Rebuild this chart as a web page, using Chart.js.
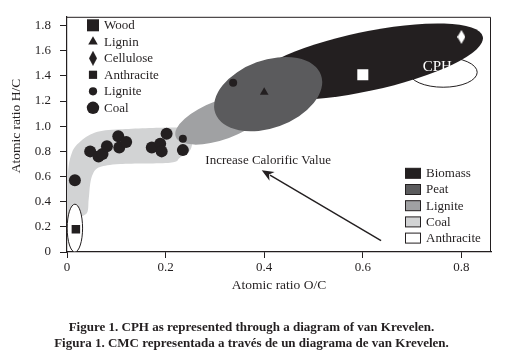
<!DOCTYPE html>
<html><head><meta charset="utf-8">
<script src="https://cdn.jsdelivr.net/npm/chart.js@4.4.0/dist/chart.umd.min.js"></script>
<style>
html,body{margin:0;padding:0;background:#fff;}
#wrap{position:relative;width:515px;height:360px;overflow:hidden;}
canvas{position:absolute;left:0;top:0;}
.cap{position:absolute;left:0;width:503px;text-align:center;font:bold 13px "Liberation Serif",serif;color:#231f20;line-height:16px;white-space:nowrap;}
</style></head><body>
<div id="wrap"><canvas id="c" width="515" height="360"></canvas>
<div class="cap" style="top:319px">Figure 1. CPH as represented through a diagram of van Krevelen.</div>
<div class="cap" style="top:335px">Figura 1. CMC representada a través de un diagrama de van Krevelen.</div>
</div>
<script>
// ---------- data ----------
const xTickValues = [0, 0.2, 0.4, 0.6, 0.8];
const xTickLabels = ['0', '0.2', '0.4', '0.6', '0.8'];
const yTickValues = [0, 0.2, 0.4, 0.6, 0.8, 1.0, 1.2, 1.4, 1.6, 1.8];
const yTickLabels = ['0', '0.2', '0.4', '0.6', '0.8', '1.0', '1.2', '1.4', '1.6', '1.8'];
const xTitle = 'Atomic ratio O/C';
const yTitle = 'Atomic ratio H/C';

const seriesNames = ['Wood', 'Lignin', 'Cellulose', 'Anthracite', 'Lignite', 'Coal'];
const woodPoints = [{x: 0.60, y: 1.41}];
const ligninPoints = [{x: 0.40, y: 1.27}];
const cellulosePoints = [{x: 0.80, y: 1.71}];
const anthracitePoints = [{x: 0.018, y: 0.18}];
const lignitePoints = [{x: 0.337, y: 1.345}, {x: 0.235, y: 0.90}];
const coalPoints = [
  {x: 0.016, y: 0.57}, {x: 0.047, y: 0.80}, {x: 0.064, y: 0.76}, {x: 0.072, y: 0.78},
  {x: 0.081, y: 0.84}, {x: 0.104, y: 0.92}, {x: 0.106, y: 0.83}, {x: 0.120, y: 0.875},
  {x: 0.172, y: 0.83}, {x: 0.189, y: 0.86}, {x: 0.192, y: 0.80}, {x: 0.202, y: 0.94},
  {x: 0.235, y: 0.81}
];

const regionNames = ['Biomass', 'Peat', 'Lignite', 'Coal', 'Anthracite'];
// ellipses: centre (x,y), semi-axes (x units, y units), tilt in degrees
const biomassEllipse = [0.605, 1.513, 0.2437, 0.235, 12];
const peatEllipse = [0.408, 1.255, 0.114, 0.269, 20];
const ligniteEllipse = [0.315, 1.052, 0.1005, 0.155, 20];
const anthraciteEllipse = [0.016, 0.19, 0.0156, 0.19, 0];
const cphEllipse = [0.763, 1.429, 0.069, 0.119, 0];
const coalOutline = [
  [0.002, 0.30], [0.002, 0.625], [0.010, 0.79], [0.026, 0.875], [0.057, 0.95],
  [0.108, 0.975], [0.209, 0.99], [0.240, 0.98], [0.254, 0.92], [0.250, 0.81],
  [0.229, 0.75], [0.209, 0.71], [0.108, 0.70], [0.067, 0.675], [0.053, 0.625],
  [0.047, 0.54], [0.044, 0.42], [0.038, 0.30]
];
const cphLabel = ['CPH', 0.751, 1.468];
const arrowText = ['Increase Calorific Value', 0.408, 0.73];
const arrowFrom = [0.637, 0.09];
const arrowTo = [0.395, 0.65];

// ---------- styles ----------
const INK = '#231f20';
const FONT = '"Liberation Serif", "Times New Roman", serif';
const regionFill = {Biomass: '#231f20', Peat: '#5b5b5d', Lignite: '#a0a1a3', Coal: '#d2d3d4', Anthracite: '#ffffff'};

function diamondImage(color, w, h) {
  const c = document.createElement('canvas');
  c.width = w; c.height = h;
  const g = c.getContext('2d');
  g.fillStyle = color;
  g.beginPath();
  g.moveTo(w / 2, 0); g.lineTo(w, h / 2); g.lineTo(w / 2, h); g.lineTo(0, h / 2);
  g.closePath(); g.fill();
  return c;
}
const diamondWhite = diamondImage('#ffffff', 8, 14);
const diamondBlack = diamondImage(INK, 8, 15);

const seriesData = [woodPoints, ligninPoints, cellulosePoints, anthracitePoints, lignitePoints, coalPoints];
const seriesStyle = [
  {pointStyle: 'rect', radius: 7.8, color: '#ffffff', legendRadius: 8.5, legendStyle: 'rect'},
  {pointStyle: 'triangle', radius: 5, color: INK, legendRadius: 5.5, legendStyle: 'triangle'},
  {pointStyle: diamondWhite, radius: 7, color: '#ffffff', legendRadius: 7, legendStyle: diamondBlack},
  {pointStyle: 'rect', radius: 6, color: INK, legendRadius: 5.8, legendStyle: 'rect'},
  {pointStyle: 'circle', radius: 4, color: INK, legendRadius: 4.1, legendStyle: 'circle'},
  {pointStyle: 'circle', radius: 6, color: INK, legendRadius: 6.2, legendStyle: 'circle'}
];

const datasets = seriesNames.map((name, i) => ({
  label: name,
  data: seriesData[i],
  pointStyle: seriesStyle[i].pointStyle,
  pointRadius: seriesStyle[i].radius,
  pointHoverRadius: seriesStyle[i].radius,
  backgroundColor: seriesStyle[i].color,
  borderColor: seriesStyle[i].color,
  borderWidth: 0,
  showLine: false
}));

function ellipsePath(ctx, xs, ys, e) {
  const [cx, cy, rx, ry, ang] = e;
  const px = xs.getPixelForValue(cx), py = ys.getPixelForValue(cy);
  const rxp = Math.abs(xs.getPixelForValue(cx + rx) - px);
  const ryp = Math.abs(ys.getPixelForValue(cy + ry) - py);
  ctx.beginPath();
  ctx.ellipse(px, py, rxp, ryp, -ang * Math.PI / 180, 0, Math.PI * 2);
}
function smoothClosedPath(ctx, xs, ys, pts) {
  const p = pts.map(q => [xs.getPixelForValue(q[0]), ys.getPixelForValue(q[1])]);
  const n = p.length;
  ctx.beginPath();
  ctx.moveTo(p[0][0], p[0][1]);
  for (let i = 0; i < n; i++) {
    const p0 = p[(i - 1 + n) % n], p1 = p[i], p2 = p[(i + 1) % n], p3 = p[(i + 2) % n];
    ctx.bezierCurveTo(p1[0] + (p2[0] - p0[0]) / 6, p1[1] + (p2[1] - p0[1]) / 6,
                      p2[0] - (p3[0] - p1[0]) / 6, p2[1] - (p3[1] - p1[1]) / 6, p2[0], p2[1]);
  }
  ctx.closePath();
}

const regionsPlugin = {
  id: 'regions',
  beforeDatasetsDraw(chart) {
    const {ctx, chartArea: a, scales: {x: xs, y: ys}} = chart;
    ctx.save();
    ctx.beginPath(); ctx.rect(a.left, a.top, a.right - a.left, a.bottom - a.top); ctx.clip();
    ellipsePath(ctx, xs, ys, cphEllipse);
    ctx.fillStyle = '#ffffff'; ctx.fill();
    ctx.lineWidth = 1; ctx.strokeStyle = INK; ctx.stroke();
    ellipsePath(ctx, xs, ys, biomassEllipse);
    ctx.fillStyle = regionFill.Biomass; ctx.fill();
    smoothClosedPath(ctx, xs, ys, coalOutline);
    ctx.fillStyle = regionFill.Coal; ctx.fill();
    ellipsePath(ctx, xs, ys, ligniteEllipse);
    ctx.fillStyle = regionFill.Lignite; ctx.fill();
    ellipsePath(ctx, xs, ys, peatEllipse);
    ctx.fillStyle = regionFill.Peat; ctx.fill();
    ellipsePath(ctx, xs, ys, anthraciteEllipse);
    ctx.fillStyle = '#ffffff'; ctx.fill();
    ctx.lineWidth = 1; ctx.strokeStyle = INK; ctx.stroke();
    ctx.restore();
  },
  afterDatasetsDraw(chart) {
    const {ctx, chartArea: a, scales: {x: xs, y: ys}} = chart;
    ctx.save();
    ctx.font = '15px ' + FONT;
    ctx.fillStyle = '#ffffff'; ctx.textAlign = 'center'; ctx.textBaseline = 'middle';
    ctx.fillText(cphLabel[0], xs.getPixelForValue(cphLabel[1]), ys.getPixelForValue(cphLabel[2]));
    ctx.font = '13px ' + FONT;
    ctx.fillStyle = INK;
    ctx.fillText(arrowText[0], xs.getPixelForValue(arrowText[1]), ys.getPixelForValue(arrowText[2]));
    const x1 = xs.getPixelForValue(arrowFrom[0]), y1 = ys.getPixelForValue(arrowFrom[1]);
    const x2 = xs.getPixelForValue(arrowTo[0]), y2 = ys.getPixelForValue(arrowTo[1]);
    const ang = Math.atan2(y2 - y1, x2 - x1);
    const hl = 12, hw = 5;
    ctx.strokeStyle = INK; ctx.lineWidth = 1.4;
    ctx.beginPath(); ctx.moveTo(x1, y1);
    ctx.lineTo(x2 - Math.cos(ang) * hl * 0.8, y2 - Math.sin(ang) * hl * 0.8); ctx.stroke();
    ctx.beginPath();
    ctx.moveTo(x2, y2);
    ctx.lineTo(x2 - Math.cos(ang) * hl - Math.sin(ang) * hw, y2 - Math.sin(ang) * hl + Math.cos(ang) * hw);
    ctx.lineTo(x2 - Math.cos(ang) * hl * 0.7, y2 - Math.sin(ang) * hl * 0.7);
    ctx.lineTo(x2 - Math.cos(ang) * hl + Math.sin(ang) * hw, y2 - Math.sin(ang) * hl - Math.cos(ang) * hw);
    ctx.closePath(); ctx.fill();
    // frame top/right
    ctx.strokeStyle = INK; ctx.lineWidth = 1;
    ctx.beginPath();
    ctx.moveTo(a.left, a.top + 0.5); ctx.lineTo(a.right - 0.5, a.top + 0.5); ctx.lineTo(a.right - 0.5, a.bottom);
    ctx.stroke();
    // legend 1 (markers)
    ctx.font = '13px ' + FONT; ctx.textAlign = 'left'; ctx.textBaseline = 'middle';
    seriesNames.forEach((name, i) => {
      const yy = a.top + 8.5 + i * 16.5;
      const st = seriesStyle[i];
      ctx.fillStyle = INK; ctx.strokeStyle = INK;
      Chart.helpers.drawPoint(ctx, {pointStyle: st.legendStyle, radius: st.legendRadius, rotation: 0, borderWidth: 0}, a.left + 26, yy);
      ctx.fillStyle = INK;
      ctx.fillText(name, a.left + 37, yy + 0.5);
    });
    // legend 2 (regions)
    regionNames.forEach((name, i) => {
      const yy = a.top + 156.5 + i * 16.2;
      ctx.fillStyle = regionFill[name];
      ctx.fillRect(a.left + 338.5, yy - 5, 15, 10);
      ctx.strokeStyle = INK; ctx.lineWidth = 1;
      ctx.strokeRect(a.left + 338.5, yy - 5, 15, 10);
      ctx.fillStyle = INK;
      ctx.fillText(name, a.left + 359, yy + 0.5);
    });
    ctx.restore();
  },
  afterDraw(chart) {
    const {ctx} = chart;
    ctx.save();
    ctx.font = '13.5px ' + FONT; ctx.fillStyle = INK;
    ctx.textAlign = 'center'; ctx.textBaseline = 'middle';
    ctx.translate(16, 126); ctx.rotate(-Math.PI / 2);
    ctx.fillText(yTitle, 0, 0);
    ctx.restore();
  }
};

new Chart(document.getElementById('c'), {
  type: 'scatter',
  data: {datasets},
  plugins: [regionsPlugin],
  options: {
    responsive: false,
    animation: false,
    devicePixelRatio: 1,
    layout: {padding: {left: 0, top: 16, right: 24, bottom: 66}},
    plugins: {legend: {display: false}, tooltip: {enabled: false}},
    scales: {
      x: {
        type: 'linear', min: 0, max: 0.86,
        afterFit(s) { s.height = 42; },
        afterBuildTicks(s) { s.ticks = xTickValues.map(v => ({value: v})); },
        ticks: {
          callback: v => xTickLabels[xTickValues.findIndex(t => Math.abs(t - v) < 1e-9)],
          font: {family: FONT, size: 13}, color: INK, padding: 2, maxRotation: 0
        },
        grid: {drawOnChartArea: false, drawTicks: true, tickLength: 6, color: INK, lineWidth: 1},
        border: {display: true, color: INK, width: 1.2},
        title: {display: true, text: xTitle, font: {family: FONT, size: 13.5}, color: INK, padding: {top: 0, bottom: 0}}
      },
      y: {
        type: 'linear', min: 0, max: 1.87,
        afterFit(s) { s.width = 67; },
        afterBuildTicks(s) { s.ticks = yTickValues.map(v => ({value: v})); },
        ticks: {
          callback: v => yTickLabels[yTickValues.findIndex(t => Math.abs(t - v) < 1e-9)],
          font: {family: FONT, size: 13}, color: INK, padding: 9
        },
        grid: {drawOnChartArea: false, drawTicks: true, tickLength: 7, color: INK, lineWidth: 1},
        border: {display: true, color: INK, width: 1.2},
        title: {display: false}
      }
    }
  }
});
</script>
</body></html>
